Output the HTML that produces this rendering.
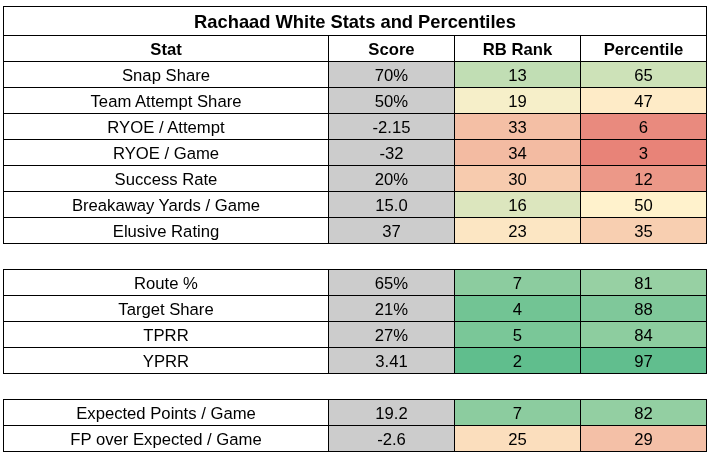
<!DOCTYPE html>
<html><head><meta charset="utf-8"><title>Rachaad White Stats and Percentiles</title>
<style>
html,body{margin:0;padding:0;background:#fff}
body{width:708px;height:452px;position:relative;overflow:hidden;font-family:"Liberation Sans",Arial,sans-serif;color:#000}
.c{position:absolute;box-sizing:border-box;padding-left:1px;text-align:center;white-space:nowrap;font-size:16.67px;height:26px;line-height:26px;padding-top:2px}
.h{font-weight:bold}
.t{font-weight:bold;font-size:18.33px;height:29px;line-height:29px;padding-top:1px}
.l{position:absolute;background:#000}
</style></head><body>

<div class="c t" style="left:3px;top:6px;width:703px;">Rachaad White Stats and Percentiles</div>
<div class="c h" style="left:3px;top:35px;width:325px;">Stat</div>
<div class="c h" style="left:328px;top:35px;width:126px;">Score</div>
<div class="c h" style="left:454px;top:35px;width:126px;">RB Rank</div>
<div class="c h" style="left:580px;top:35px;width:126px;">Percentile</div>
<div class="c" style="left:3px;top:61px;width:325px;">Snap Share</div>
<div class="c" style="left:328px;top:61px;width:126px;background:#cccccc;">70%</div>
<div class="c" style="left:454px;top:61px;width:126px;background:#c1deb4;">13</div>
<div class="c" style="left:580px;top:61px;width:126px;background:#cde2b8;">65</div>
<div class="c" style="left:3px;top:87px;width:325px;">Team Attempt Share</div>
<div class="c" style="left:328px;top:87px;width:126px;background:#cccccc;">50%</div>
<div class="c" style="left:454px;top:87px;width:126px;background:#f6efc9;">19</div>
<div class="c" style="left:580px;top:87px;width:126px;background:#feebc7;">47</div>
<div class="c" style="left:3px;top:113px;width:325px;">RYOE / Attempt</div>
<div class="c" style="left:328px;top:113px;width:126px;background:#cccccc;">-2.15</div>
<div class="c" style="left:454px;top:113px;width:126px;background:#f4bfa5;">33</div>
<div class="c" style="left:580px;top:113px;width:126px;background:#e98a7e;">6</div>
<div class="c" style="left:3px;top:139px;width:325px;">RYOE / Game</div>
<div class="c" style="left:328px;top:139px;width:126px;background:#cccccc;">-32</div>
<div class="c" style="left:454px;top:139px;width:126px;background:#f3bba2;">34</div>
<div class="c" style="left:580px;top:139px;width:126px;background:#e88378;">3</div>
<div class="c" style="left:3px;top:165px;width:325px;">Success Rate</div>
<div class="c" style="left:328px;top:165px;width:126px;background:#cccccc;">20%</div>
<div class="c" style="left:454px;top:165px;width:126px;background:#f7cbae;">30</div>
<div class="c" style="left:580px;top:165px;width:126px;background:#ec9888;">12</div>
<div class="c" style="left:3px;top:191px;width:325px;">Breakaway Yards / Game</div>
<div class="c" style="left:328px;top:191px;width:126px;background:#cccccc;">15.0</div>
<div class="c" style="left:454px;top:191px;width:126px;background:#dce6be;">16</div>
<div class="c" style="left:580px;top:191px;width:126px;background:#fff2cc;">50</div>
<div class="c" style="left:3px;top:217px;width:325px;">Elusive Rating</div>
<div class="c" style="left:328px;top:217px;width:126px;background:#cccccc;">37</div>
<div class="c" style="left:454px;top:217px;width:126px;background:#fce6c3;">23</div>
<div class="c" style="left:580px;top:217px;width:126px;background:#f8cfb1;">35</div>
<div class="c" style="left:3px;top:269px;width:325px;">Route %</div>
<div class="c" style="left:328px;top:269px;width:126px;background:#cccccc;">65%</div>
<div class="c" style="left:454px;top:269px;width:126px;background:#8ccc9f;">7</div>
<div class="c" style="left:580px;top:269px;width:126px;background:#97d0a3;">81</div>
<div class="c" style="left:3px;top:295px;width:325px;">Target Share</div>
<div class="c" style="left:328px;top:295px;width:126px;background:#cccccc;">21%</div>
<div class="c" style="left:454px;top:295px;width:126px;background:#72c494;">4</div>
<div class="c" style="left:580px;top:295px;width:126px;background:#7fc89a;">88</div>
<div class="c" style="left:3px;top:321px;width:325px;">TPRR</div>
<div class="c" style="left:328px;top:321px;width:126px;background:#cccccc;">27%</div>
<div class="c" style="left:454px;top:321px;width:126px;background:#7ac798;">5</div>
<div class="c" style="left:580px;top:321px;width:126px;background:#8dcd9f;">84</div>
<div class="c" style="left:3px;top:347px;width:325px;">YPRR</div>
<div class="c" style="left:328px;top:347px;width:126px;background:#cccccc;">3.41</div>
<div class="c" style="left:454px;top:347px;width:126px;background:#60be8d;">2</div>
<div class="c" style="left:580px;top:347px;width:126px;background:#61be8e;">97</div>
<div class="c" style="left:3px;top:399px;width:325px;">Expected Points / Game</div>
<div class="c" style="left:328px;top:399px;width:126px;background:#cccccc;">19.2</div>
<div class="c" style="left:454px;top:399px;width:126px;background:#8ccc9f;">7</div>
<div class="c" style="left:580px;top:399px;width:126px;background:#93cfa2;">82</div>
<div class="c" style="left:3px;top:425px;width:325px;">FP over Expected / Game</div>
<div class="c" style="left:328px;top:425px;width:126px;background:#cccccc;">-2.6</div>
<div class="c" style="left:454px;top:425px;width:126px;background:#fbdebd;">25</div>
<div class="c" style="left:580px;top:425px;width:126px;background:#f4c0a7;">29</div>
<div class="l" style="left:3px;top:6px;width:704px;height:1px"></div>
<div class="l" style="left:3px;top:35px;width:704px;height:1px"></div>
<div class="l" style="left:3px;top:61px;width:704px;height:1px"></div>
<div class="l" style="left:3px;top:87px;width:704px;height:1px"></div>
<div class="l" style="left:3px;top:113px;width:704px;height:1px"></div>
<div class="l" style="left:3px;top:139px;width:704px;height:1px"></div>
<div class="l" style="left:3px;top:165px;width:704px;height:1px"></div>
<div class="l" style="left:3px;top:191px;width:704px;height:1px"></div>
<div class="l" style="left:3px;top:217px;width:704px;height:1px"></div>
<div class="l" style="left:3px;top:243px;width:704px;height:1px"></div>
<div class="l" style="left:3px;top:269px;width:704px;height:1px"></div>
<div class="l" style="left:3px;top:295px;width:704px;height:1px"></div>
<div class="l" style="left:3px;top:321px;width:704px;height:1px"></div>
<div class="l" style="left:3px;top:347px;width:704px;height:1px"></div>
<div class="l" style="left:3px;top:373px;width:704px;height:1px"></div>
<div class="l" style="left:3px;top:399px;width:704px;height:1px"></div>
<div class="l" style="left:3px;top:425px;width:704px;height:1px"></div>
<div class="l" style="left:3px;top:451px;width:704px;height:1px"></div>
<div class="l" style="left:3px;top:6px;width:1px;height:238px"></div>
<div class="l" style="left:706px;top:6px;width:1px;height:238px"></div>
<div class="l" style="left:328px;top:35px;width:1px;height:209px"></div>
<div class="l" style="left:454px;top:35px;width:1px;height:209px"></div>
<div class="l" style="left:580px;top:35px;width:1px;height:209px"></div>
<div class="l" style="left:3px;top:269px;width:1px;height:105px"></div>
<div class="l" style="left:3px;top:399px;width:1px;height:53px"></div>
<div class="l" style="left:328px;top:269px;width:1px;height:105px"></div>
<div class="l" style="left:328px;top:399px;width:1px;height:53px"></div>
<div class="l" style="left:454px;top:269px;width:1px;height:105px"></div>
<div class="l" style="left:454px;top:399px;width:1px;height:53px"></div>
<div class="l" style="left:580px;top:269px;width:1px;height:105px"></div>
<div class="l" style="left:580px;top:399px;width:1px;height:53px"></div>
<div class="l" style="left:706px;top:269px;width:1px;height:105px"></div>
<div class="l" style="left:706px;top:399px;width:1px;height:53px"></div>
</body></html>
